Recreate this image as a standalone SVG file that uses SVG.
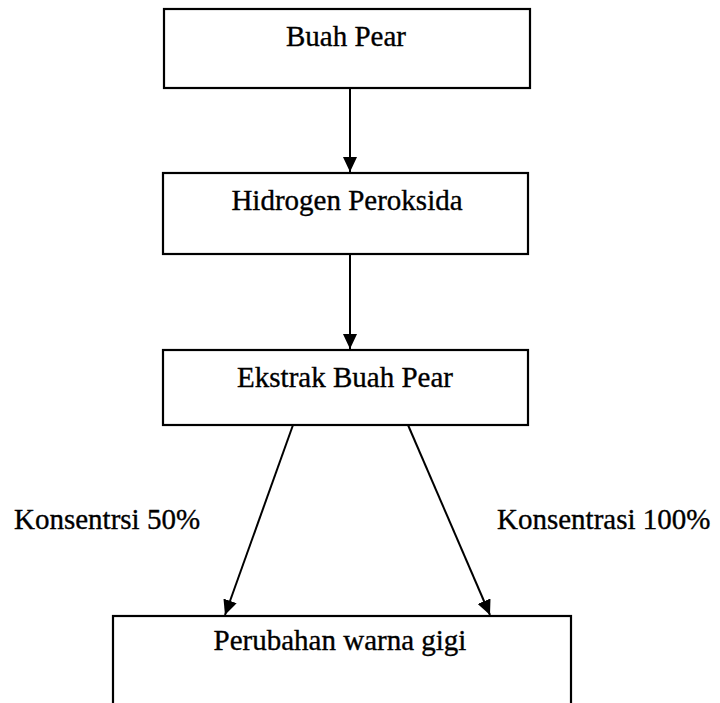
<svg xmlns="http://www.w3.org/2000/svg" width="720" height="703" viewBox="0 0 720 703">
<style>
.box{fill:#fff;stroke:#000;stroke-width:2.2}
.t{font-family:"Liberation Serif","Times New Roman",serif;font-size:29px;fill:#000;stroke:#000;stroke-width:0.35}
.c{text-anchor:middle}
.conn line{stroke:#000;stroke-width:2}
</style>
<defs>
<marker id="ah" markerUnits="userSpaceOnUse" markerWidth="16" markerHeight="14" refX="15" refY="7" orient="auto">
<path d="M0,0 L15,7 L0,14 Z" fill="#000"/>
</marker>
</defs>
<rect width="720" height="703" fill="#fff"/>
<g id="n1">
<rect class="box" x="164" y="9" width="366" height="79"/>
<text class="t c" x="346" y="46">Buah Pear</text>
</g>
<g id="n2">
<rect class="box" x="163" y="173" width="365" height="81"/>
<text class="t c" x="347" y="210">Hidrogen Peroksida</text>
</g>
<g id="n3">
<rect class="box" x="163" y="350" width="365" height="75"/>
<text class="t c" x="345" y="387">Ekstrak Buah Pear</text>
</g>
<g id="n4">
<rect class="box" x="113" y="616" width="458" height="120"/>
<text class="t c" x="340" y="650">Perubahan warna gigi</text>
</g>
<g class="conn" id="connectors">
<line x1="350" y1="88" x2="350" y2="172" marker-end="url(#ah)"/>
<line x1="350" y1="254" x2="350" y2="349" marker-end="url(#ah)"/>
<line x1="293" y1="425" x2="225" y2="615" marker-end="url(#ah)"/>
<line x1="408" y1="425" x2="490" y2="615" marker-end="url(#ah)"/>
</g>
<g id="labels">
<text class="t" x="14" y="529">Konsentrsi 50%</text>
<text class="t" x="497" y="529">Konsentrasi 100%</text>
</g>
</svg>
